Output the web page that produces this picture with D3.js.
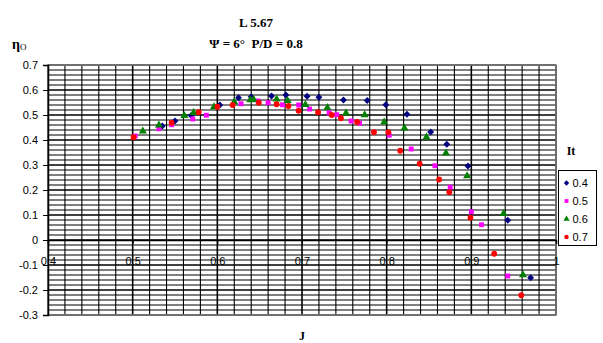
<!DOCTYPE html>
<html>
<head>
<meta charset="utf-8">
<script src="https://cdn.jsdelivr.net/npm/d3@7/dist/d3.min.js"></script>
<style>
  html, body { margin: 0; padding: 0; background: #fff; }
  svg { display: block; }
</style>
</head>
<body>
<svg id="chart" width="603" height="343"></svg>
<script>
// Efficiency curves (eta_O vs J) for four It settings
const seriesNames = ["0.4", "0.5", "0.6", "0.7"];
const seriesColors = ["#000080", "#FF00FF", "#008000", "#FF0000"];
const seriesShapes = [d3.symbolDiamond2, d3.symbolSquare, d3.symbolTriangle, d3.symbolCircle];
const seriesSizes = [30, 24, 28, 26];

const jIt04 = [0.535, 0.550, 0.569, 0.603, 0.625, 0.640, 0.664, 0.681, 0.706, 0.720, 0.749, 0.777, 0.799, 0.824, 0.852, 0.871, 0.896, 0.943, 0.970];
const etaIt04 = [0.456, 0.476, 0.498, 0.540, 0.569, 0.573, 0.576, 0.580, 0.575, 0.571, 0.560, 0.558, 0.541, 0.503, 0.432, 0.383, 0.296, 0.079, -0.151];

const jIt05 = [0.503, 0.531, 0.546, 0.571, 0.587, 0.628, 0.648, 0.660, 0.677, 0.696, 0.709, 0.732, 0.741, 0.758, 0.768, 0.803, 0.829, 0.857, 0.875, 0.900, 0.912, 0.943];
const etaIt05 = [0.416, 0.445, 0.461, 0.484, 0.499, 0.545, 0.556, 0.549, 0.541, 0.540, 0.524, 0.509, 0.501, 0.476, 0.467, 0.419, 0.364, 0.297, 0.211, 0.113, 0.061, -0.144];

const jIt06 = [0.512, 0.531, 0.561, 0.572, 0.596, 0.620, 0.639, 0.643, 0.670, 0.683, 0.704, 0.730, 0.752, 0.774, 0.797, 0.821, 0.847, 0.870, 0.895, 0.938, 0.961];
const etaIt06 = [0.435, 0.459, 0.497, 0.509, 0.532, 0.552, 0.560, 0.561, 0.563, 0.557, 0.541, 0.529, 0.507, 0.500, 0.471, 0.447, 0.411, 0.347, 0.256, 0.105, -0.140];

const jIt07 = [0.501, 0.546, 0.578, 0.600, 0.618, 0.649, 0.670, 0.684, 0.696, 0.719, 0.735, 0.746, 0.765, 0.785, 0.802, 0.816, 0.839, 0.862, 0.874, 0.899, 0.927, 0.959];
const etaIt07 = [0.411, 0.469, 0.511, 0.533, 0.540, 0.549, 0.543, 0.536, 0.517, 0.511, 0.500, 0.487, 0.472, 0.431, 0.431, 0.357, 0.305, 0.242, 0.191, 0.089, -0.055, -0.221];

const xTickLabels = ["0.4", "0.5", "0.6", "0.7", "0.8", "0.9", "1"];
const yTickLabels = ["-0.3", "-0.2", "-0.1", "0", "0.1", "0.2", "0.3", "0.4", "0.5", "0.6", "0.7"];

const seriesJ = [jIt04, jIt05, jIt06, jIt07];
const seriesEta = [etaIt04, etaIt05, etaIt06, etaIt07];

const svg = d3.select("#chart");
const plot = { left: 48, right: 556, top: 65, bottom: 315 };

const x = d3.scaleLinear().domain([0.4, 1.0]).range([plot.left, plot.right]);
const y = d3.scaleLinear().domain([-0.3, 0.7]).range([plot.bottom, plot.top]);

const sans = "'Liberation Sans', Arial, sans-serif";
const serif = "'Liberation Serif', 'Times New Roman', serif";

// plot background
svg.append("rect")
  .attr("x", plot.left).attr("y", plot.top)
  .attr("width", plot.right - plot.left).attr("height", plot.bottom - plot.top)
  .attr("fill", "#fff");

// gridlines every 0.02, heavier every 0.1
const grid = svg.append("g");
const xMinor = d3.range(0, 31).map(i => 0.4 + i * 0.02);
const yMinor = d3.range(0, 51).map(i => -0.3 + i * 0.02);
const isMajor = v => Math.abs(v * 10 - Math.round(v * 10)) < 1e-6;

grid.selectAll("line.v").data(xMinor).join("line")
  .attr("x1", d => x(d)).attr("x2", d => x(d))
  .attr("y1", plot.top).attr("y2", plot.bottom)
  .attr("stroke", "#000")
  .attr("stroke-width", d => isMajor(d) ? 1.6 : 1.1);

grid.selectAll("line.h").data(yMinor).join("line")
  .attr("y1", d => y(d)).attr("y2", d => y(d))
  .attr("x1", plot.left).attr("x2", plot.right)
  .attr("stroke", "#000")
  .attr("stroke-width", d => isMajor(d) ? 1.6 : 1.1);

// plot border
svg.append("rect")
  .attr("x", plot.left).attr("y", plot.top)
  .attr("width", plot.right - plot.left).attr("height", plot.bottom - plot.top)
  .attr("fill", "none").attr("stroke", "#808080").attr("stroke-width", 1.5);

// y axis
const yAxis = d3.axisLeft(y)
  .tickValues(yTickLabels.map(Number))
  .tickFormat((d, i) => yTickLabels[i])
  .tickSize(5).tickPadding(5);
const gy = svg.append("g").attr("transform", `translate(${plot.left},0)`).call(yAxis);
gy.select(".domain").attr("stroke", "#000").attr("stroke-width", 1.5);
gy.selectAll(".tick line").attr("stroke", "#000");
gy.selectAll("text").attr("font-family", sans).attr("font-size", 11).attr("fill", "#000");

// x axis crossing at eta = 0
const xAxis = d3.axisBottom(x)
  .tickValues(xTickLabels.map(Number))
  .tickFormat((d, i) => xTickLabels[i])
  .tickSize(4).tickPadding(13);
const gx = svg.append("g").attr("transform", `translate(0,${y(0)})`).call(xAxis);
gx.select(".domain").attr("stroke", "#000").attr("stroke-width", 1.5);
gx.selectAll(".tick line").attr("stroke", "#000");
gx.selectAll("text").attr("font-family", sans).attr("font-size", 11).attr("fill", "#000");

// data markers
seriesNames.forEach((name, s) => {
  const pts = seriesJ[s].map((j, i) => ({ j, eta: seriesEta[s][i] }));
  svg.append("g").selectAll("path").data(pts).join("path")
    .attr("transform", d => `translate(${x(d.j)},${y(d.eta)})`)
    .attr("d", d3.symbol().type(seriesShapes[s]).size(seriesSizes[s]))
    .attr("fill", seriesColors[s]);
});

// titles
svg.append("text").attr("x", 256).attr("y", 27).attr("text-anchor", "middle")
  .attr("font-family", serif).attr("font-weight", "bold").attr("font-size", 13)
  .text("L 5.67");
svg.append("text").attr("x", 256).attr("y", 48).attr("text-anchor", "middle")
  .attr("font-family", serif).attr("font-weight", "bold").attr("font-size", 13)
  .attr("xml:space", "preserve")
  .text("Ψ = 6°  P/D = 0.8");

// y axis title
const yt = svg.append("text").attr("x", 12).attr("y", 49)
  .attr("font-family", serif).attr("font-weight", "bold").attr("font-size", 14);
yt.append("tspan").text("η");
yt.append("tspan").attr("font-size", 9).attr("font-weight", "normal").attr("dy", 1).text("O");

// x axis title
svg.append("text").attr("x", 302).attr("y", 340).attr("text-anchor", "middle")
  .attr("font-family", serif).attr("font-weight", "bold").attr("font-size", 12)
  .text("J");

// legend
svg.append("text").attr("x", 571).attr("y", 155).attr("text-anchor", "middle")
  .attr("font-family", serif).attr("font-weight", "bold").attr("font-size", 12)
  .text("It");
svg.append("rect").attr("x", 558.5).attr("y", 170.5).attr("width", 38).attr("height", 75)
  .attr("fill", "#fff").attr("stroke", "#000").attr("stroke-width", 1);
const leg = svg.append("g").selectAll("g").data(seriesNames).join("g")
  .attr("transform", (d, i) => `translate(566.5,${183 + i * 18})`);
leg.append("path")
  .attr("d", (d, i) => d3.symbol().type(seriesShapes[i]).size(seriesSizes[i] * 0.6)())
  .attr("fill", (d, i) => seriesColors[i]);
leg.append("text").attr("x", 6).attr("y", 4)
  .attr("font-family", sans).attr("font-size", 11)
  .text(d => d);
</script>
</body>
</html>
